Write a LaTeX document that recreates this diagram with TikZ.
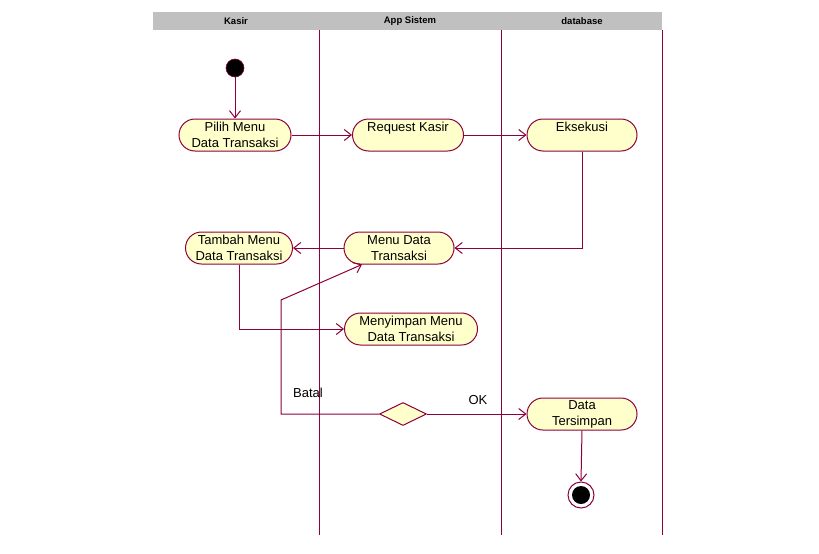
\documentclass[tikz,border=0pt]{standalone}
\usepackage{fontspec}
\setmainfont{Liberation Sans}
\usetikzlibrary{shapes.misc,shapes.geometric,arrows.meta,calc}
\definecolor{umlline}{RGB}{140,0,60}
\definecolor{umlfill}{RGB}{255,255,204}
\definecolor{headgray}{RGB}{192,192,192}
\begin{document}
\begin{tikzpicture}[x=1pt,y=-1pt,
  act/.style={rounded rectangle, draw=umlline, fill=umlfill, line width=1pt,
    inner sep=0pt, align=center, font=\fontsize{13}{16}\selectfont, minimum height=32pt},
  flow/.style={draw=umlline, line width=1pt, -{Straight Barb[length=7pt,width=11pt]}},
  lane/.style={draw=umlline, line width=1pt},
  head/.style={font=\fontsize{9.5}{10}\selectfont\bfseries},
  lbl/.style={font=\fontsize{13}{15}\selectfont, inner sep=0pt}]
\useasboundingbox (0,0) rectangle (819,554);
% swimlane header
\fill[headgray] (153,12) rectangle (662,30);
\node[head] (hk) at (236,21) {Kasir};
\node[head] (ha) at (410,21) {App Sistem};
\node[head] (hd) at (582,21) {database};
\draw[lane] (319,30) -- (319,535);
\draw[lane] (501,30) -- (501,535);
\draw[lane] (662,30) -- (662,535);
% nodes
\node[circle, fill=black, draw=umlline, line width=0.6pt, minimum size=18pt, inner sep=0pt] (start) at (235,68) {};
\node[act, minimum width=112pt] (pilih) at (235,135) {Pilih Menu\\Data Transaksi};
\node[act, minimum width=111pt] (request) at (408,135) {Request Kasir\\\mbox{}};
\node[act, minimum width=110pt] (eks) at (582,135) {Eksekusi\\\mbox{}};
\node[act, minimum width=107pt] (tambah) at (239,248) {Tambah Menu\\Data Transaksi};
\node[act, minimum width=110pt] (menu) at (399,248) {Menu Data\\Transaksi};
\node[act, minimum width=133pt] (simpan) at (411,329) {Menyimpan Menu\\Data Transaksi};
\node[diamond, draw=umlline, fill=umlfill, line width=1pt, inner sep=0pt, minimum width=47pt, minimum height=23pt] (dia) at (403,414) {};
\node[act, minimum width=110pt] (tersimpan) at (582,414) {Data\\Tersimpan};
\node[circle, draw=umlline, fill=white, line width=1pt, minimum size=26pt, inner sep=0pt] (end) at (581,495) {};
\node[circle, fill=black, minimum size=18pt, inner sep=0pt] (endin) at (581,495) {};
% connectors
\draw[flow] (start) -- (pilih);
\draw[flow] (pilih.east) -- (request.west);
\draw[flow] (request.east) -- (eks.west);
\draw[flow] (eks.south) |- (menu.east);
\draw[flow] (menu.west) -- (tambah.east);
\draw[flow] (tambah.south) |- (simpan.west);
\coordinate (b1) at (281,414);
\coordinate (b2) at (281,300);
\draw[flow] (dia.west) -- (b1) -- (b2) -- ($(menu.south)+(-37,0)$);
\draw[flow] (dia.east) -- (tersimpan.west);
\draw[flow] (tersimpan.south) -- (end.north);
% labels
\node[lbl] (batal) at (308,393) {Batal};
\node[lbl] (ok) at (478,400) {OK};
\end{tikzpicture}
\end{document}
